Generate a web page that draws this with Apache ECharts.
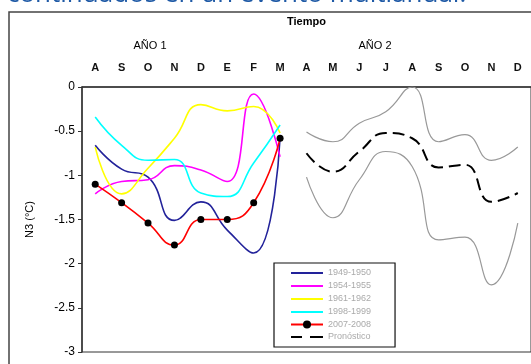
<!DOCTYPE html>
<html><head><meta charset="utf-8">
<script src="https://cdn.jsdelivr.net/npm/echarts@6/dist/echarts.min.js"></script>
<style>html,body{margin:0;padding:0;background:#fff}#c{width:531px;height:364px}</style>
</head><body><div id="c"></div>
<script>
const months = ['A','S','O','N','D','E','F','M','A','M','J','J','A','S','O','N','D'];
const yTicks = [0,-0.5,-1,-1.5,-2,-2.5,-3];
const s1949 = [-0.66,-0.93,-1.02,-1.51,-1.30,-1.62,-1.88,-0.57];
const s1954 = [-1.21,-1.07,-1.05,-0.89,-0.94,-1.07,-0.08,-0.79];
const s1961 = [-0.68,-1.21,-0.92,-0.58,-0.20,-0.27,-0.22,-0.52];
const s1998 = [-0.34,-0.66,-0.83,-0.82,-1.20,-1.24,-0.86,-0.43];
const s2007 = [-1.10,-1.31,-1.54,-1.79,-1.50,-1.50,-1.31,-0.58];
const pron  = [-0.75,-0.96,-0.73,-0.52,-0.58,-0.91,-0.88,-1.30,-1.20];
const upper = [-0.51,-0.62,-0.41,-0.28,0.00,-0.62,-0.54,-0.83,-0.68];
const lower = [-1.02,-1.48,-1.05,-0.73,-0.90,-1.73,-1.70,-2.24,-1.54];
const names = ['1949-1950','1954-1955','1961-1962','1998-1999','2007-2008','Pronóstico'];

const pad1 = a => a.concat(new Array(months.length - a.length).fill(null));
const pad2 = a => new Array(months.length - a.length).fill(null).concat(a);

const solidIcon = 'path://M0,4h32v2h-32zM0,0h0.01v0.01h-0.01zM0,10h0.01v0.01h-0.01z';
const dashIcon = 'path://M0,4h11v2h-11zM19,4h13v2h-13zM0,0h0.01v0.01h-0.01zM0,10h0.01v0.01h-0.01z';
const legendData = names.map(n => n === '2007-2008' ? {name:n} : {name:n, icon: n === 'Pronóstico' ? dashIcon : solidIcon});

const chart = echarts.init(document.getElementById('c'));
const F = 'Liberation Sans, Arial, sans-serif';
const line = (name, data, color, extra) => Object.assign({
  name, type:'line', data, smooth:0.5, symbol:'none', connectNulls:false,
  lineStyle:{color, width:1.6}, itemStyle:{color}, z:3
}, extra || {});

chart.setOption({
  animation:false,
  backgroundColor:'#fff',
  textStyle:{fontFamily:F},
  grid:{left:82, top:87, width:455.6, height:265, show:true, borderColor:'#333', borderWidth:1},
  xAxis:{type:'category', data:months, position:'top', boundaryGap:true,
    name:'Tiempo', nameLocation:'middle', nameGap:60,
    nameTextStyle:{fontSize:11, fontWeight:'bold', color:'#000', fontFamily:F},
    axisLine:{lineStyle:{color:'#333', width:1.5}},
    axisTick:{inside:true, length:4, lineStyle:{color:'#333'}},
    axisLabel:{margin:14, fontSize:11, fontWeight:'bold', color:'#111', fontFamily:F},
    splitLine:{show:false}},
  yAxis:{type:'value', min:-3, max:0, interval:0.5,
    name:'N3 (°C)', nameLocation:'middle', nameGap:47, nameRotate:90,
    nameTextStyle:{fontSize:11, color:'#000', fontFamily:F},
    axisLine:{show:true, lineStyle:{color:'#333', width:1.5}},
    axisTick:{show:true, length:4, lineStyle:{color:'#333'}},
    axisLabel:{margin:7, fontSize:12, color:'#000', fontFamily:F,
      formatter: v => String(Math.round(v*10)/10)},
    splitLine:{show:false}},
  legend:{data:legendData, orient:'vertical', left:274, top:263,
    padding:[5,24,5,16], itemGap:3, itemWidth:32, itemHeight:10,
    borderColor:'#111', borderWidth:1.2, backgroundColor:'#fff',
    textStyle:{fontSize:9, color:'#aaa', fontFamily:F}},
  graphic:[
    {type:'rect', shape:{x:9, y:12, width:540, height:400}, style:{fill:'none', stroke:'#444', lineWidth:1.5}, z:-1},
    {type:'text', x:7, y:7.5, style:{text:'continuados en un evento multianual.', fill:'#1f5aa6', font:'26px "Open Sans", sans-serif', textVerticalAlign:'bottom'}},
    {type:'text', x:150, y:46, style:{text:'AÑO 1', fill:'#000', font:'11px '+F, textAlign:'center', textVerticalAlign:'middle'}},
    {type:'text', x:375, y:46, style:{text:'AÑO 2', fill:'#000', font:'11px '+F, textAlign:'center', textVerticalAlign:'middle'}}
  ],
  series:[
    line('upper', pad2(upper), '#999', {lineStyle:{color:'#999', width:1.2}, z:2}),
    line('lower', pad2(lower), '#999', {lineStyle:{color:'#999', width:1.2}, z:2}),
    line(names[0], pad1(s1949), '#22229a'),
    line(names[1], pad1(s1954), '#ff00ff'),
    line(names[2], pad1(s1961), '#ffff00'),
    line(names[3], pad1(s1998), '#00ffff'),
    line(names[4], pad1(s2007), '#ff0000', {symbol:'circle', symbolSize:7, showSymbol:true,
      itemStyle:{color:'#000'}, lineStyle:{color:'#ff0000', width:1.6}, z:4}),
    line(names[5], pad2(pron), '#000', {lineStyle:{color:'#000', width:2, type:[12,6]}, z:4})
  ]
});
</script></body></html>
